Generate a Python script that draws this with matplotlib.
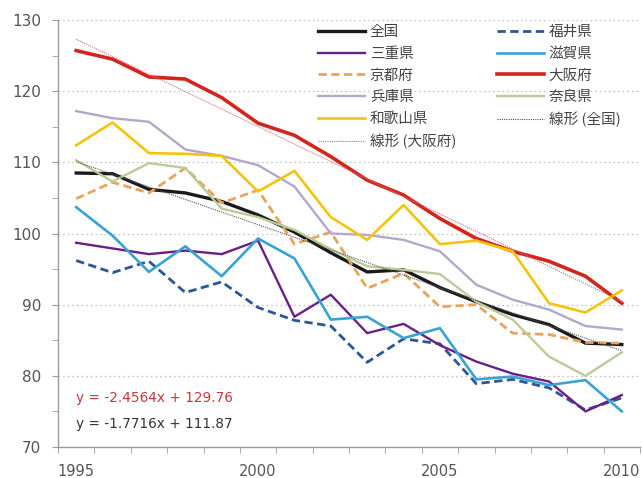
import numpy as np
import matplotlib
matplotlib.use("Agg")
import matplotlib.pyplot as plt

plt.rcParams['font.family'] = ['DejaVu Sans']

years = list(range(1995, 2011))
year_labels = ["1995", "2000", "2005", "2010"]

zenkoku  = [108.5, 108.4, 106.2, 105.7, 104.5, 102.6, 100.2, 97.3, 94.6, 94.9, 92.4, 90.4, 88.6, 87.2, 84.6, 84.4]
fukui    = [96.2, 94.5, 96.1, 91.7, 93.2, 89.6, 87.8, 87.0, 81.9, 85.2, 84.5, 78.9, 79.5, 78.3, 75.2, 76.9]
mie      = [98.7, 97.9, 97.1, 97.6, 97.1, 99.0, 88.3, 91.4, 86.0, 87.3, 84.3, 82.0, 80.3, 79.2, 75.0, 77.3]
shiga    = [103.7, 99.7, 94.6, 98.2, 94.0, 99.3, 96.5, 87.9, 88.3, 85.3, 86.7, 79.5, 79.9, 78.7, 79.4, 75.0]
kyoto    = [104.9, 107.2, 105.7, 109.2, 104.3, 106.1, 98.5, 100.2, 92.3, 94.4, 89.7, 90.0, 86.0, 85.8, 84.7, 84.6]
osaka    = [125.7, 124.5, 122.0, 121.7, 119.1, 115.5, 113.8, 110.8, 107.5, 105.4, 102.1, 99.3, 97.5, 96.1, 94.0, 90.2]
hyogo    = [117.2, 116.2, 115.7, 111.8, 110.9, 109.6, 106.6, 100.0, 99.8, 99.1, 97.5, 92.8, 90.7, 89.3, 87.0, 86.5]
nara     = [110.3, 107.3, 109.9, 109.2, 103.5, 102.3, 100.5, 97.8, 95.4, 94.9, 94.3, 90.4, 87.9, 82.7, 80.0, 83.3]
wakayama = [112.4, 115.6, 111.3, 111.2, 110.9, 105.9, 108.8, 102.3, 99.1, 104.0, 98.5, 99.0, 97.5, 90.2, 88.9, 92.0]

# linear trend coefficients (slope, intercept) on x = 1..16
trend_osaka = (-2.4564, 129.76)
trend_zenkoku = (-1.7716, 111.87)

fig = plt.figure(figsize=(6.42, 4.78), dpi=100)
W, H = 642, 478
ax = fig.add_axes([58 / W, (H - 447) / H, (640 - 58) / W, (447 - 20) / H])

x = np.arange(len(years))

series = [
    ("全国", zenkoku, dict(color="#1a1a1a", lw=2.4)),
    ("福井県", fukui, dict(color="#2b5797", lw=2.0, dashes=(3.0, 1.6))),
    ("三重県", mie, dict(color="#6b1f86", lw=1.7)),
    ("滋賀県", shiga, dict(color="#39a2d6", lw=1.9)),
    ("京都府", kyoto, dict(color="#e8a45a", lw=2.0, dashes=(3.0, 1.6))),
    ("大阪府", osaka, dict(color="#d4251c", lw=2.6)),
    ("兵庫県", hyogo, dict(color="#b4a6cc", lw=1.7)),
    ("奈良県", nara, dict(color="#b9cc98", lw=1.7)),
    ("和歌山県", wakayama, dict(color="#f2c40c", lw=1.9)),
]

handles = {}
for name, vals, kw in series:
    ln, = ax.plot(x, vals, solid_joinstyle="round", **kw)
    handles[name] = ln

xt = x + 1
s, b = trend_zenkoku
ln_tz, = ax.plot(x, s * xt + b, color="#555555", lw=0.8, ls=(0, (1, 1)))
handles["線形 (全国)"] = ln_tz
s, b = trend_osaka
ln_to, = ax.plot(x, s * xt + b, color="#d8647a", lw=0.8, ls=(0, (1, 1)))
handles["線形 (大阪府)"] = ln_to

# axes styling
ax.set_xlim(-0.5, len(years) - 0.5)
ax.set_ylim(70, 130)
for sp in ["top", "right"]:
    ax.spines[sp].set_visible(False)
for sp in ["left", "bottom"]:
    ax.spines[sp].set_color("#9a9a9a")
    ax.spines[sp].set_linewidth(1.0)

ax.set_yticks(np.arange(70, 131, 10))
ax.set_yticks(np.arange(75, 130, 10), minor=True)
ax.yaxis.grid(True, which="major", color="#bdbdbd", ls=(0, (1.2, 2.5)), lw=0.9)
ax.tick_params(axis="y", which="both", length=4, color="#9a9a9a", direction="out")
ax.tick_params(axis="y", which="major", labelsize=11, labelcolor="#555555", pad=8)

label_pos = [years.index(int(t)) for t in year_labels]
ax.set_xticks(label_pos)
ax.set_xticklabels(year_labels)
ax.set_xticks(np.arange(-0.5, len(years)), minor=True)
ax.tick_params(axis="x", which="major", length=0, labelsize=10.5, labelcolor="#555555", pad=12)
ax.tick_params(axis="x", which="minor", length=4, color="#9a9a9a", direction="out")

# legend in two fixed columns
leg_font = dict(family=["Noto Sans CJK JP", "DejaVu Sans"], size=10.5)
col1 = ["全国", "三重県", "京都府", "兵庫県", "和歌山県", "線形 (大阪府)"]
col2 = ["福井県", "滋賀県", "大阪府", "奈良県", "線形 (全国)"]
legs = []
for names, x0 in [(col1, 318), (col2, 497)]:
    lg = ax.legend([handles[n] for n in names], names, loc="upper left",
                   bbox_to_anchor=(x0 / W, 1 - 25 / H), bbox_transform=fig.transFigure,
                   frameon=False, prop=leg_font, handlelength=3.2, handletextpad=0.35,
                   borderpad=0, borderaxespad=0, labelspacing=0.53,
                   labelcolor="#444444")
    legs.append(lg)
ax.add_artist(legs[0])

# trend equations
ax.text(76 / W, 1 - 398 / H, "y = -2.4564x + 129.76", transform=fig.transFigure,
        color="#c8363e", fontsize=9.8, va="center", ha="left")
ax.text(76 / W, 1 - 424 / H, "y = -1.7716x + 111.87", transform=fig.transFigure,
        color="#333333", fontsize=9.8, va="center", ha="left")

fig.savefig("out.png", dpi=100)
